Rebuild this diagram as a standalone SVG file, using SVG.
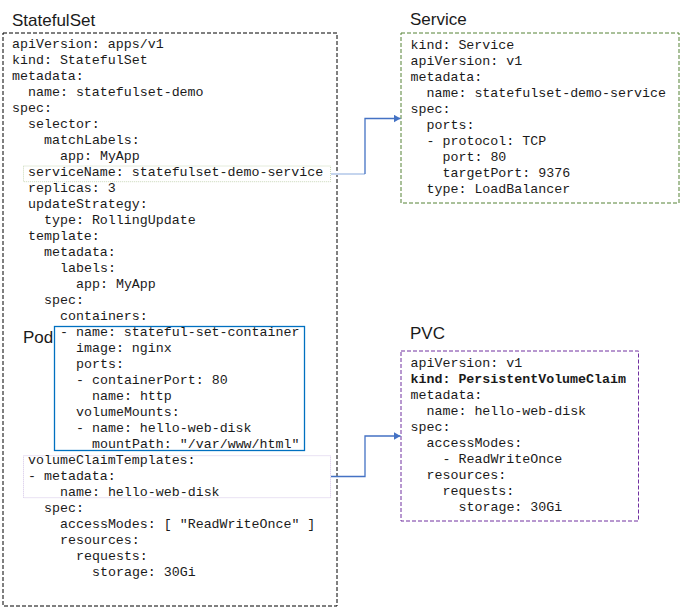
<svg xmlns="http://www.w3.org/2000/svg" width="680" height="608" viewBox="0 0 680 608">
<defs>
<style>
.title{font-family:"Liberation Sans",Arial,sans-serif;font-size:17px;fill:#1a1a1a}
.code{font-family:"Liberation Mono","Courier New",monospace;font-size:13.3px;fill:#1a1a1a}
.b{font-weight:bold}
.frame{fill:none;stroke-width:1;stroke-dasharray:4 2}
.conn{fill:none;stroke:#4472C4;stroke-width:1.3}
</style>
<marker id="ah" markerWidth="8" markerHeight="8" refX="7" refY="4" orient="auto" markerUnits="userSpaceOnUse">
<path d="M0,0 L7,4 L0,8 Z" fill="#4472C4"/>
</marker>
</defs>
<rect width="680" height="608" fill="#fff"/>

<g id="statefulset">
<text class="title" x="12" y="25.5">StatefulSet</text>
<rect class="frame" x="3" y="33" width="334" height="573" stroke="#000"/>
<text class="code">
<tspan x="12" y="47.5">apiVersion: apps/v1</tspan>
<tspan x="12" y="63.5">kind: StatefulSet</tspan>
<tspan x="12" y="79.5">metadata:</tspan>
<tspan x="28" y="95.5">name: statefulset-demo</tspan>
<tspan x="12" y="111.5">spec:</tspan>
<tspan x="28" y="127.5">selector:</tspan>
<tspan x="44" y="143.5">matchLabels:</tspan>
<tspan x="60" y="159.5">app: MyApp</tspan>
<tspan x="28" y="191.5">replicas: 3</tspan>
<tspan x="28" y="207.5">updateStrategy:</tspan>
<tspan x="44" y="223.5">type: RollingUpdate</tspan>
<tspan x="28" y="239.5">template:</tspan>
<tspan x="44" y="255.5">metadata:</tspan>
<tspan x="60" y="271.5">labels:</tspan>
<tspan x="76" y="287.5">app: MyApp</tspan>
<tspan x="44" y="303.5">spec:</tspan>
<tspan x="60" y="319.5">containers:</tspan>
<tspan x="44" y="511.5">spec:</tspan>
<tspan x="60" y="527.5">accessModes: [ "ReadWriteOnce" ]</tspan>
<tspan x="60" y="543.5">resources:</tspan>
<tspan x="76" y="559.5">requests:</tspan>
<tspan x="92" y="575.5">storage: 30Gi</tspan>
</text>
</g>

<g id="serviceName">
<rect x="23.5" y="166" width="307" height="15.7" fill="none" stroke="#C9D8B8" stroke-width="1" stroke-dasharray="1 1"/>
<text class="code" x="28" y="175.5">serviceName: statefulset-demo-service</text>
</g>

<g id="pod">
<text class="title" x="23" y="342.5">Pod</text>
<rect x="54.5" y="326.5" width="250" height="124" fill="none" stroke="#0070C0" stroke-width="1.3"/>
<text class="code">
<tspan x="60" y="335.5">- name: stateful-set-container</tspan>
<tspan x="76" y="351.5">image: nginx</tspan>
<tspan x="76" y="367.5">ports:</tspan>
<tspan x="76" y="383.5">- containerPort: 80</tspan>
<tspan x="92" y="399.5">name: http</tspan>
<tspan x="76" y="415.5">volumeMounts:</tspan>
<tspan x="76" y="431.5">- name: hello-web-disk</tspan>
<tspan x="92" y="447.5">mountPath: "/var/www/html"</tspan>
</text>
</g>

<g id="volumeClaimTemplates">
<rect x="23.5" y="455.7" width="307" height="42" fill="none" stroke="#D2C3E6" stroke-width="1" stroke-dasharray="1 1"/>
<text class="code">
<tspan x="28" y="463.5">volumeClaimTemplates:</tspan>
<tspan x="28" y="479.5">- metadata:</tspan>
<tspan x="60" y="495.5">name: hello-web-disk</tspan>
</text>
</g>

<g id="service">
<text class="title" x="410" y="25">Service</text>
<rect class="frame" x="401" y="33" width="278" height="170" stroke="#548235"/>
<text class="code">
<tspan x="410.5" y="48.5">kind: Service</tspan>
<tspan x="410.5" y="64.5">apiVersion: v1</tspan>
<tspan x="410.5" y="80.5">metadata:</tspan>
<tspan x="426.5" y="96.5">name: statefulset-demo-service</tspan>
<tspan x="410.5" y="112.5">spec:</tspan>
<tspan x="426.5" y="128.5">ports:</tspan>
<tspan x="426.5" y="144.5">- protocol: TCP</tspan>
<tspan x="442.5" y="160.5">port: 80</tspan>
<tspan x="442.5" y="176.5">targetPort: 9376</tspan>
<tspan x="426.5" y="192.5">type: LoadBalancer</tspan>
</text>
</g>

<g id="pvc">
<text class="title" x="410" y="339">PVC</text>
<rect class="frame" x="401" y="351" width="237.5" height="170" stroke="#7030A0"/>
<text class="code">
<tspan x="410.5" y="367">apiVersion: v1</tspan>
<tspan x="410.5" y="383" class="b">kind: PersistentVolumeClaim</tspan>
<tspan x="410.5" y="399">metadata:</tspan>
<tspan x="426.5" y="415">name: hello-web-disk</tspan>
<tspan x="410.5" y="431">spec:</tspan>
<tspan x="426.5" y="447">accessModes:</tspan>
<tspan x="442.5" y="463">- ReadWriteOnce</tspan>
<tspan x="426.5" y="479">resources:</tspan>
<tspan x="442.5" y="495">requests:</tspan>
<tspan x="458.5" y="511">storage: 30Gi</tspan>
</text>
</g>

<g id="connectors">
<path d="M331,174 H365" fill="none" stroke="#C5D5EE" stroke-width="2"/>
<path class="conn" d="M365,174 V118.5 H400.5" marker-end="url(#ah)"/>
<path class="conn" d="M331,476.5 H365 V436 H400.5" marker-end="url(#ah)"/>
</g>
</svg>
